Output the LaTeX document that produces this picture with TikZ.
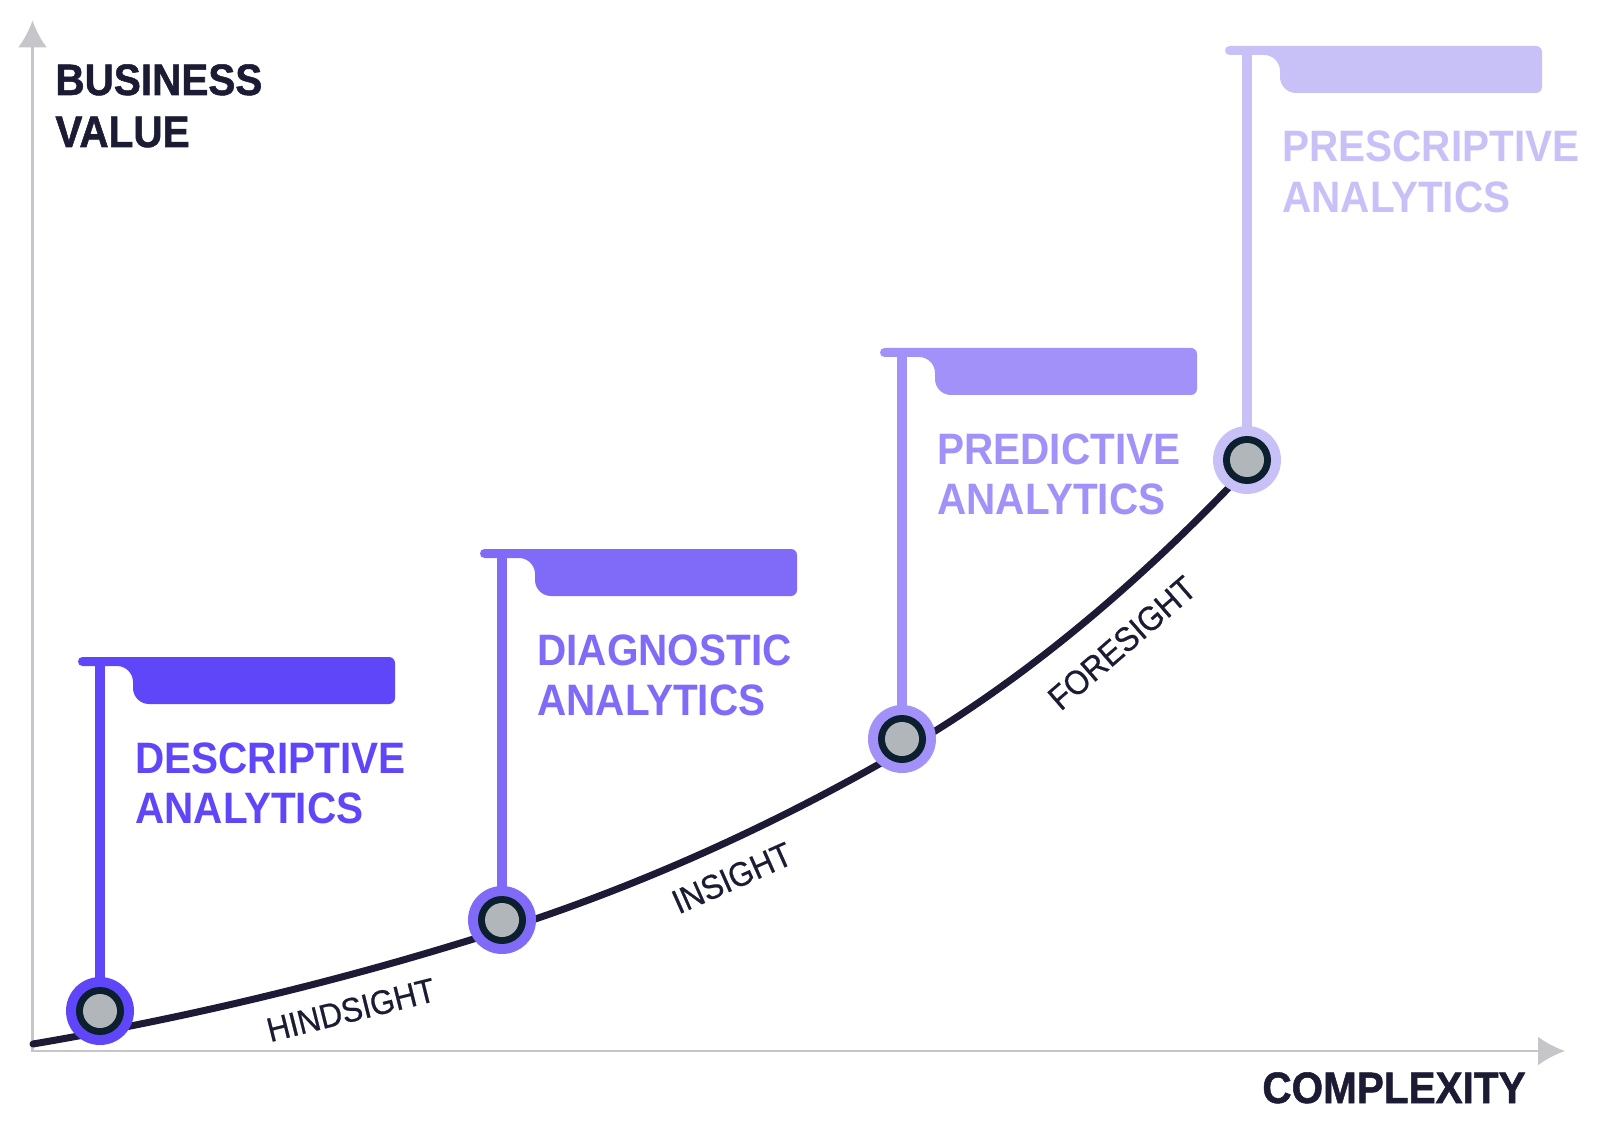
\documentclass[tikz,border=0pt]{standalone}
\usepackage{fontspec}
\setmainfont{Liberation Sans}[FakeStretch=0.92]
\newfontfamily\heavyfont{Liberation Sans Bold}[FakeStretch=0.92, FakeBold=1.2]
\newfontfamily\phasefont{Liberation Sans}[FakeStretch=0.92, FakeBold=0.6]
\usetikzlibrary{arrows.meta}
\definecolor{cDesc}{HTML}{5F46F8}
\definecolor{cDiag}{HTML}{806AF8}
\definecolor{cPred}{HTML}{A191F9}
\definecolor{cPres}{HTML}{C8C1F8}
\definecolor{cDark}{HTML}{1B1B33}
\definecolor{cCurve}{HTML}{1C1A35}
\definecolor{cRing}{HTML}{0B1F2E}
\definecolor{cCore}{HTML}{B1B6BB}
\definecolor{cAxis}{HTML}{C6C6CA}
\newcommand\flagshape[3]{%
  \fill[#3] ({#1-17.5},#2) -- ({#1+289},#2)
    .. controls ({#1+292.3},#2) and ({#1+295},{#2+2.7}) .. ({#1+295},{#2+6})
    -- ({#1+295},{#2+41})
    .. controls ({#1+295},{#2+44.3}) and ({#1+292.3},{#2+47}) .. ({#1+289},{#2+47})
    -- ({#1+49},{#2+47})
    .. controls ({#1+40.2},{#2+47}) and ({#1+33},{#2+39.8}) .. ({#1+33},{#2+31})
    -- ({#1+33},{#2+25})
    .. controls ({#1+33},{#2+16.2}) and ({#1+25.8},{#2+9}) .. ({#1+17},{#2+9})
    -- ({#1-17.5},{#2+9})
    .. controls ({#1-20},{#2+9}) and ({#1-22},{#2+7}) .. ({#1-22},{#2+4.5})
    .. controls ({#1-22},{#2+2}) and ({#1-20},#2) .. ({#1-17.5},#2) -- cycle;}
\begin{document}
\begin{tikzpicture}[x=0.5pt,y=-0.5pt,
  axisline/.style={draw=cAxis, line width=1.25pt, -{Latex[length=13.5pt,width=14.5pt]}},
  curveline/.style={draw=cCurve, line width=3.5pt, line cap=round},
  pole/.style={line width=4.75pt},
  outer/.style={circle, minimum size=34pt, inner sep=0pt},
  ring/.style={circle, fill=cRing, minimum size=24pt, inner sep=0pt},
  core/.style={circle, fill=cCore, minimum size=17pt, inner sep=0pt},
  lab/.style={font=\bfseries\fontsize{22}{25.3}\selectfont, inner sep=0pt, anchor=base west},
  ttl/.style={font=\heavyfont\fontsize{22}{26}\selectfont, text=cDark, inner sep=0pt, anchor=base west},
  phase/.style={font=\phasefont\fontsize{17}{20}\selectfont, text=cDark, inner sep=0pt, anchor=center}]
\useasboundingbox (0,0) rectangle (1600,1128);
% axes
\coordinate (O) at (32.5,1052);
\coordinate (ytip) at (32.5,20.5);
\coordinate (xo) at (31.5,1051);
\coordinate (xtip) at (1565,1051);
\draw[axisline] (O) -- (ytip);
\draw[axisline] (xo) -- (xtip);
% titles
\node[ttl] (bv) at (55,95) {\vtop{\baselineskip=26pt\hbox{BUSINESS}\hbox{VALUE}}};
\node[ttl] (cx) at (1262,1103) {COMPLEXITY};
% curve
\coordinate (s0) at (33,1044);
\coordinate (s1) at (502,930);
\coordinate (s2) at (902,751);
\coordinate (s3) at (1238,478);
\draw[curveline] (s0) .. controls (189,1017.5) and (346,980) .. (s1)
  .. controls (635.3,887.3) and (768.7,828.3) .. (s2)
  .. controls (1014,686) and (1126,595.6) .. (s3);
% phase labels
\node[phase, rotate=14] (hind) at (351,1010) {HINDSIGHT};
\node[phase, rotate=24] (ins) at (732,878) {INSIGHT};
\node[phase, rotate=41] (fore) at (1122,643) {FORESIGHT};
% flags
\flagshape{100}{657}{cDesc}
\flagshape{502}{549}{cDiag}
\flagshape{902}{348}{cPred}
\flagshape{1247}{46}{cPres}
% poles
\coordinate (c1) at (100,1011);
\coordinate (c2) at (502,920);
\coordinate (c3) at (902,739);
\coordinate (c4) at (1247,460);
\coordinate (p1) at (100,661);
\coordinate (p2) at (502,553);
\coordinate (p3) at (902,352);
\coordinate (p4) at (1247,50);
\draw[pole, cDesc] (p1) -- (c1);
\draw[pole, cDiag] (p2) -- (c2);
\draw[pole, cPred] (p3) -- (c3);
\draw[pole, cPres] (p4) -- (c4);
% nodes
\node[outer, fill=cDesc] (n1) at (c1) {};
\node[outer, fill=cDiag] (n2) at (c2) {};
\node[outer, fill=cPred] (n3) at (c3) {};
\node[outer, fill=cPres] (n4) at (c4) {};
\node[ring] (r1) at (c1) {};
\node[ring] (r2) at (c2) {};
\node[ring] (r3) at (c3) {};
\node[ring] (r4) at (c4) {};
\node[core] (k1) at (c1) {};
\node[core] (k2) at (c2) {};
\node[core] (k3) at (c3) {};
\node[core] (k4) at (c4) {};
% labels
\node[lab, text=cDesc] (tdesc) at (135,773) {\vtop{\baselineskip=25.3pt\hbox{DESCRIPTIVE}\hbox{ANALYTICS}}};
\node[lab, text=cDiag] (tdiag) at (537,665) {\vtop{\baselineskip=25.3pt\hbox{DIAGNOSTIC}\hbox{ANALYTICS}}};
\node[lab, text=cPred] (tpred) at (937,464) {\vtop{\baselineskip=25.3pt\hbox{PREDICTIVE}\hbox{ANALYTICS}}};
\node[lab, text=cPres] (tpres) at (1282,162) {\vtop{\baselineskip=25.3pt\hbox{PRESCRIPTIVE}\hbox{ANALYTICS}}};
\end{tikzpicture}
\end{document}
